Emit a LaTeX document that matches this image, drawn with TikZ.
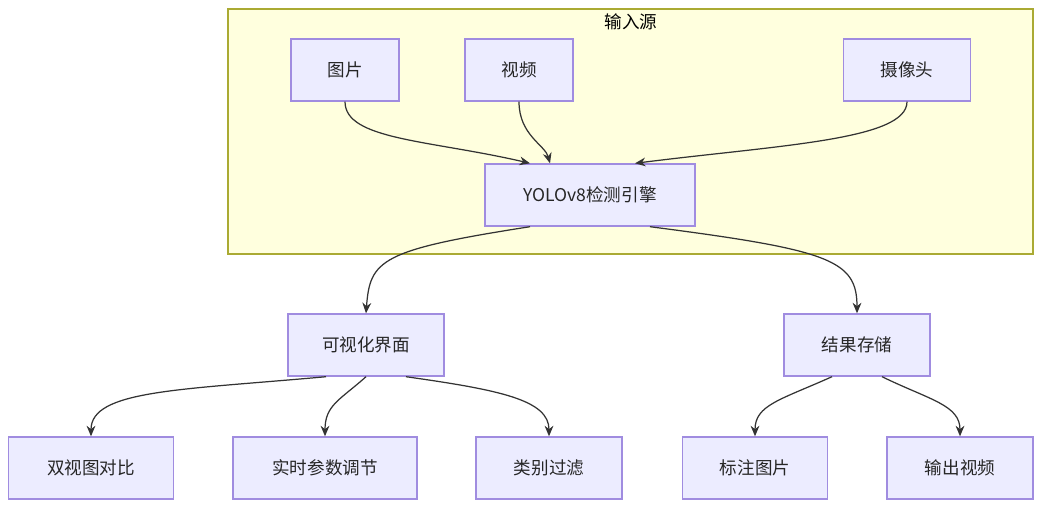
\documentclass[tikz,border=0pt]{standalone}
\usepackage{fontspec}
\setmainfont{Noto Sans CJK SC}
\usetikzlibrary{arrows.meta}
\definecolor{boxfill}{HTML}{ECECFF}
\definecolor{boxline}{HTML}{A08CE0}
\definecolor{clusterfill}{HTML}{FFFFDE}
\definecolor{clusterline}{HTML}{AAAA33}
\tikzset{
  box/.style={draw=boxline, fill=boxfill, line width=0.8pt, minimum height=1.24cm, font=\fontsize{10}{12}\selectfont, text=black!85},
  link/.style={-{Stealth[length=6pt,width=5pt]}, line width=0.7pt, draw=black!80}
}
\begin{document}
\begin{tikzpicture}[x=0.02cm,y=-0.02cm]
\useasboundingbox (0,0) rectangle (1043,510);
\fill[white] (0,0) rectangle (1043,510);
\filldraw[fill=clusterfill, draw=clusterline, line width=0.8pt] (228,9) rectangle (1033,254);
\node[font=\fontsize{10}{12}\selectfont] (src) at (631,22) {输入源};

\node[box, minimum width=2.16cm] (img) at (345,70) {图片};
\node[box, minimum width=2.16cm] (vid) at (519,70) {视频};
\node[box, minimum width=2.54cm] (cam) at (907,70) {摄像头};
\node[box, minimum width=4.2cm] (yolo) at (590,195) {YOLOv8检测引擎};
\node[box, minimum width=3.12cm] (gui) at (366,345) {可视化界面};
\node[box, minimum width=2.92cm] (store) at (857,345) {结果存储};
\node[box, minimum width=3.3cm] (dual) at (91,468) {双视图对比};
\node[box, minimum width=3.68cm] (param) at (325,468) {实时参数调节};
\node[box, minimum width=2.92cm] (filt) at (549,468) {类别过滤};
\node[box, minimum width=2.9cm] (mark) at (755,468) {标注图片};
\node[box, minimum width=2.92cm] (outv) at (960,468) {输出视频};

% inputs
\draw[link] (img.south) .. controls (345,140) and (430,140) .. ([xshift=-1.2cm]yolo.north);
\draw[link] (vid.south) .. controls (519,135) and (545,145) .. ([xshift=-0.8cm]yolo.north);
\draw[link] (cam.south) .. controls (907,140) and (780,145) .. ([xshift=0.9cm]yolo.north);
% outputs
\draw[link] ([xshift=-1.2cm]yolo.south) .. controls (380,250) and (370,260) .. (gui.north);
\draw[link] ([xshift=1.2cm]yolo.south) .. controls (830,250) and (857,260) .. (store.north);
\draw[link] ([xshift=-0.8cm]gui.south) .. controls (180,390) and (91,390) .. (dual.north);
\draw[link] (gui.south) .. controls (340,400) and (325,405) .. (param.north);
\draw[link] ([xshift=0.8cm]gui.south) .. controls (500,390) and (549,400) .. (filt.north);
\draw[link] ([xshift=-0.5cm]store.south) .. controls (780,400) and (755,405) .. (mark.north);
\draw[link] ([xshift=0.5cm]store.south) .. controls (930,400) and (960,405) .. (outv.north);
\end{tikzpicture}
\end{document}
